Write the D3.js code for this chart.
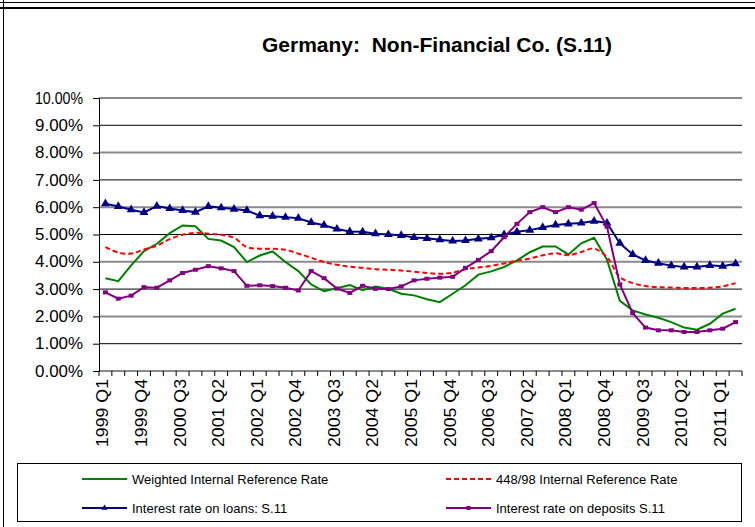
<!DOCTYPE html>
<html>
<head>
<meta charset="utf-8">
<script src="https://cdn.jsdelivr.net/npm/d3@7"></script>
<style>
  body { margin: 0; background: #fff; }
  svg { display: block; font-family: "Liberation Sans", Arial, sans-serif; }
</style>
</head>
<body>
<div id="chart"></div>
<script>
// quarterly categories 1999 Q1 .. 2011 Q2
const categories = [];
for (let yr = 1999; yr <= 2011; yr++) {
  for (let q = 1; q <= 4; q++) {
    if (yr === 2011 && q > 2) break;
    categories.push(`${yr} Q${q}`);
  }
}

const weightedRate = [3.40, 3.29, 3.87, 4.39, 4.66, 5.05, 5.33, 5.30, 4.84, 4.78,
  4.54, 3.99, 4.23, 4.38, 3.99, 3.66, 3.17, 2.92, 3.03, 3.15,
  2.96, 3.09, 3.01, 2.83, 2.77, 2.63, 2.52, 2.83, 3.14, 3.53,
  3.65, 3.81, 4.05, 4.35, 4.56, 4.56, 4.27, 4.68, 4.88, 4.08,
  2.57, 2.22, 2.07, 1.95, 1.79, 1.59, 1.51, 1.73, 2.10, 2.28];

const rate44898 = [4.54, 4.34, 4.30, 4.45, 4.59, 4.83, 4.99, 5.06, 5.03, 4.99,
  4.88, 4.54, 4.48, 4.48, 4.44, 4.30, 4.15, 3.99, 3.89, 3.82,
  3.78, 3.73, 3.71, 3.68, 3.64, 3.59, 3.56, 3.60, 3.73, 3.79,
  3.85, 3.94, 4.04, 4.12, 4.24, 4.31, 4.24, 4.36, 4.48, 4.17,
  3.44, 3.22, 3.11, 3.07, 3.06, 3.04, 3.04, 3.05, 3.10, 3.22];

const loanRate = [6.13, 6.03, 5.91, 5.81, 6.04, 5.95, 5.88, 5.82, 6.03, 5.98,
  5.93, 5.88, 5.69, 5.67, 5.63, 5.60, 5.44, 5.34, 5.20, 5.11,
  5.10, 5.03, 5.00, 4.97, 4.89, 4.86, 4.81, 4.76, 4.78, 4.84,
  4.88, 5.00, 5.10, 5.16, 5.26, 5.35, 5.39, 5.42, 5.49, 5.42,
  4.68, 4.27, 4.05, 3.95, 3.86, 3.81, 3.81, 3.87, 3.84, 3.93];

const depositRate = [2.88, 2.65, 2.76, 3.07, 3.05, 3.32, 3.59, 3.71, 3.84, 3.76,
  3.66, 3.12, 3.14, 3.11, 3.05, 2.95, 3.66, 3.40, 3.02, 2.86,
  3.12, 3.01, 3.00, 3.10, 3.32, 3.38, 3.42, 3.45, 3.78, 4.07,
  4.39, 4.90, 5.39, 5.82, 6.00, 5.82, 6.00, 5.91, 6.15, 5.29,
  3.17, 2.12, 1.59, 1.49, 1.49, 1.43, 1.43, 1.49, 1.55, 1.79];

const seriesNames = ['Weighted Internal Reference Rate', '448/98 Internal Reference Rate',
  'Interest rate on loans: S.11', 'Interest rate on deposits S.11'];
const yTicks = [0, 1, 2, 3, 4, 5, 6, 7, 8, 9, 10];

const width = 755;
const height = 527;
const plot = { left: 99, right: 742, top: 98, bottom: 371 };

const svg = d3.select('#chart').append('svg')
  .attr('width', width)
  .attr('height', height);

// outer frame
svg.append('line').attr('x1', 0).attr('x2', width).attr('y1', 2.5).attr('y2', 2.5)
  .attr('stroke', '#000').attr('stroke-width', 1);
svg.append('line').attr('x1', 0).attr('x2', width).attr('y1', 8).attr('y2', 8)
  .attr('stroke', '#000').attr('stroke-width', 2);
svg.append('line').attr('x1', 3.5).attr('x2', 3.5).attr('y1', 0).attr('y2', height)
  .attr('stroke', '#000').attr('stroke-width', 1);

svg.append('text')
  .attr('x', 437)
  .attr('y', 52)
  .attr('text-anchor', 'middle')
  .attr('font-size', '21px')
  .attr('font-weight', 'bold')
  .style('white-space', 'pre')
  .text('Germany:  Non-Financial Co. (S.11)');

const x = d3.scaleBand().domain(categories).range([plot.left, plot.right]).padding(0);
const y = d3.scaleLinear().domain([0, 10]).range([plot.bottom, plot.top]);
const cx = c => x(c) + x.bandwidth() / 2;

// gridlines (even ones look grey and heavier)
svg.append('g').selectAll('line')
  .data(yTicks)
  .join('line')
  .attr('x1', plot.left).attr('x2', plot.right)
  .attr('y1', d => y(d)).attr('y2', d => y(d))
  .attr('stroke', d => d % 2 === 0 ? '#8a8a8a' : '#000')
  .attr('stroke-width', d => d % 2 === 0 ? 2 : 1);

// y axis
const yAxis = svg.append('g')
  .attr('transform', `translate(${plot.left},0)`)
  .call(d3.axisLeft(y).tickValues(yTicks)
    .tickFormat(d => d3.format('.2f')(d) + '%')
    .tickSize(6).tickPadding(10).tickSizeOuter(0));
yAxis.select('.domain').attr('stroke', '#000');
yAxis.selectAll('text')
  .attr('font-size', '16px')
  .attr('fill', '#000')
  .attr('font-family', '"Liberation Sans", Arial, sans-serif')
  .attr('textLength', 48)
  .attr('lengthAdjust', 'spacingAndGlyphs');

// x tick marks at category boundaries
const bounds = categories.map(c => x(c)).concat([plot.right]);
svg.append('g').selectAll('line')
  .data(bounds)
  .join('line')
  .attr('x1', d => d).attr('x2', d => d)
  .attr('y1', plot.bottom).attr('y2', plot.bottom + 5)
  .attr('stroke', '#000');

// x labels every third quarter
svg.append('g').selectAll('text')
  .data(categories.filter((c, i) => i % 3 === 0))
  .join('text')
  .attr('transform', d => `translate(${cx(d) + 3},379) rotate(-90)`)
  .attr('text-anchor', 'end')
  .attr('font-size', '16px')
  .attr('textLength', 68)
  .attr('lengthAdjust', 'spacingAndGlyphs')
  .text(d => d);

const line = d3.line().x((d, i) => cx(categories[i])).y(d => y(d));
const smooth = d3.line().x((d, i) => cx(categories[i])).y(d => y(d))
  .curve(d3.curveCatmullRom.alpha(0.5));

svg.append('path').datum(weightedRate)
  .attr('d', line).attr('fill', 'none')
  .attr('stroke', '#008000').attr('stroke-width', 2);

svg.append('path').datum(rate44898)
  .attr('d', smooth).attr('fill', 'none')
  .attr('stroke', '#ff0000').attr('stroke-width', 2)
  .attr('stroke-dasharray', '5,3');

svg.append('path').datum(loanRate)
  .attr('d', line).attr('fill', 'none')
  .attr('stroke', '#000080').attr('stroke-width', 2);
svg.append('g').selectAll('path')
  .data(loanRate)
  .join('path')
  .attr('transform', (d, i) => `translate(${cx(categories[i])},${y(d)})`)
  .attr('d', d3.symbol(d3.symbolTriangle, 34))
  .attr('fill', '#000080');

svg.append('path').datum(depositRate)
  .attr('d', line).attr('fill', 'none')
  .attr('stroke', '#800080').attr('stroke-width', 2);
svg.append('g').selectAll('rect')
  .data(depositRate)
  .join('rect')
  .attr('x', (d, i) => cx(categories[i]) - 2.5)
  .attr('y', d => y(d) - 2)
  .attr('width', 5).attr('height', 4)
  .attr('fill', '#800080');

// legend
svg.append('rect')
  .attr('x', 17.5).attr('y', 463.5)
  .attr('width', 724).attr('height', 58)
  .attr('fill', '#fff').attr('stroke', '#000');

const legendItems = [
  { name: seriesNames[0], color: '#008000', dash: null, marker: null, x: 82, y: 479 },
  { name: seriesNames[1], color: '#ff0000', dash: '5,3', marker: null, x: 446, y: 479 },
  { name: seriesNames[2], color: '#000080', dash: null, marker: 'tri', x: 82, y: 508 },
  { name: seriesNames[3], color: '#800080', dash: null, marker: 'sq', x: 446, y: 508 }
];
const lg = svg.append('g').selectAll('g').data(legendItems).join('g');
lg.append('line')
  .attr('x1', d => d.x).attr('x2', d => d.x + 45)
  .attr('y1', d => d.y).attr('y2', d => d.y)
  .attr('stroke', d => d.color).attr('stroke-width', 2)
  .attr('stroke-dasharray', d => d.dash);
lg.filter(d => d.marker === 'tri').append('path')
  .attr('transform', d => `translate(${d.x + 22.5},${d.y})`)
  .attr('d', d3.symbol(d3.symbolTriangle, 16))
  .attr('fill', d => d.color);
lg.filter(d => d.marker === 'sq').append('rect')
  .attr('x', d => d.x + 20.5).attr('y', d => d.y - 2)
  .attr('width', 4).attr('height', 4)
  .attr('fill', d => d.color);
lg.append('text')
  .attr('x', d => d.x + 50)
  .attr('y', d => d.y + 5)
  .attr('font-size', '13px')
  .text(d => d.name);
</script>
</body>
</html>
